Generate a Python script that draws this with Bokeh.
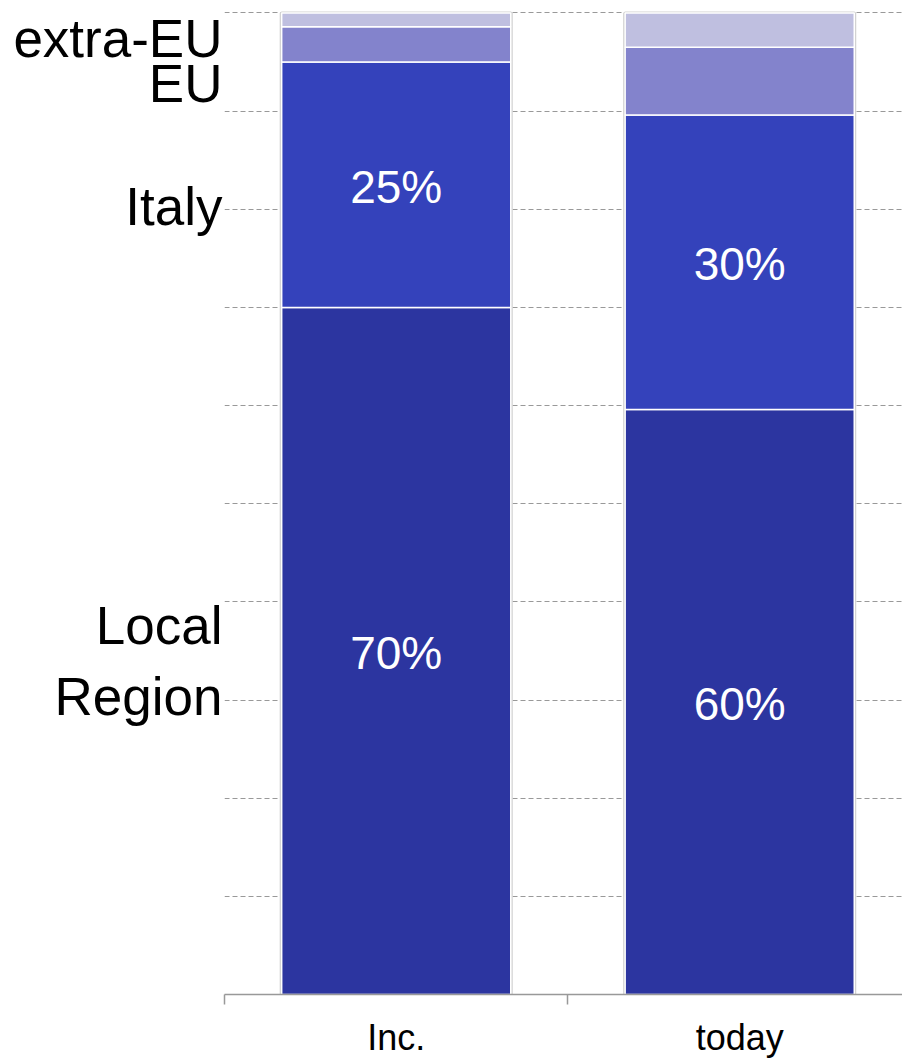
from bokeh.plotting import figure
from bokeh.models import ColumnDataSource, Range1d, FixedTicker
from bokeh.core.properties import value
from bokeh.embed import file_html
from bokeh.resources import INLINE

# ---- data ----
periods = ["Inc.", "today"]
series = ["Local", "Italy", "EU", "extra_EU"]
local = [70.0, 59.6]
italy = [25.0, 30.0]
eu = [3.6, 6.9]
extra_eu = [1.4, 3.5]
colors = ["#2C35A0", "#3442BB", "#8383CC", "#BFBFE0"]
row_labels = ["Local\nRegion", "Italy", "EU", "extra-EU"]
row_label_pos = [34.0, 80.3, 92.8, 97.4]
grid_ticks = [10, 20, 30, 40, 50, 60, 70, 80, 90, 100]

FONT = "Liberation Sans"
xs = [i + 0.5 for i in range(len(periods))]
data = dict(x=xs, Local=local, Italy=italy, EU=eu, extra_EU=extra_eu,
            total=[a + b + c + d for a, b, c, d in zip(local, italy, eu, extra_eu)])
src = ColumnDataSource(data)

p = figure(width=902, height=1062, output_backend="svg", toolbar_location=None,
           x_range=Range1d(0, 1.974), y_range=Range1d(0, 100.15),
           min_border_left=224, min_border_right=0, min_border_top=11,
           min_border_bottom=68)
p.frame_width = 678
p.frame_height = 983
p.outline_line_color = None
p.background_fill_color = "white"
p.border_fill_color = "white"

# shadow outline of the whole stack
p.vbar(x="x", top="total", bottom=0, width=0.667, source=src, fill_color=None,
       line_color="#D2D2D2", line_width=4)
p.vbar_stack(series, x="x", width=0.667, source=src, color=colors,
             line_color="white", line_width=1.5)

# percentage labels on Local and Italy segments
lx, ly, lt = [], [], []
for i, x in enumerate(xs):
    lx.append(x); ly.append(local[i] / 2); lt.append(f"{round(local[i])}%")
    lx.append(x); ly.append(local[i] + italy[i] / 2); lt.append(f"{round(italy[i])}%")
p.text(x=lx, y=ly, text=lt, text_color="white", text_font=value(FONT),
       text_font_size="46px", text_align="center", text_baseline="middle",
       y_offset=2)

# grid
p.xgrid.visible = False
p.ygrid.ticker = FixedTicker(ticks=grid_ticks)
p.ygrid.grid_line_color = "#999999"
p.ygrid.grid_line_dash = "5 3"
p.ygrid.grid_line_width = 1
p.ygrid.level = "underlay"

# y axis: category labels
p.yaxis.ticker = FixedTicker(ticks=row_label_pos, minor_ticks=[])
p.yaxis.major_label_overrides = {v: t for v, t in zip(row_label_pos, row_labels)}
p.yaxis.axis_line_color = None
p.yaxis.major_tick_line_color = None
p.yaxis.minor_tick_line_color = None
p.yaxis.major_tick_out = 0
p.yaxis.major_tick_in = 0
p.yaxis.minor_tick_out = 0
p.yaxis.major_label_standoff = 2
p.yaxis.major_label_text_font = FONT
p.yaxis.major_label_text_font_size = "53px"
p.yaxis.major_label_text_color = "black"

# x axis
p.xaxis.ticker = FixedTicker(ticks=xs, minor_ticks=[float(i) for i in range(len(periods) + 1)])
p.xaxis.major_label_overrides = {x: t for x, t in zip(xs, periods)}
p.xaxis.axis_line_color = "#999999"
p.xaxis.axis_line_width = 1.5
p.xaxis.major_tick_line_color = None
p.xaxis.major_tick_out = 0
p.xaxis.major_tick_in = 0
p.xaxis.minor_tick_line_color = "#999999"
p.xaxis.minor_tick_line_width = 1.5
p.xaxis.minor_tick_in = 0
p.xaxis.minor_tick_out = 10
p.xaxis.major_label_standoff = 12
p.xaxis.major_label_text_font = FONT
p.xaxis.major_label_text_font_size = "36px"
p.xaxis.major_label_text_color = "black"

open("out.html", "w").write(file_html(p, INLINE))
